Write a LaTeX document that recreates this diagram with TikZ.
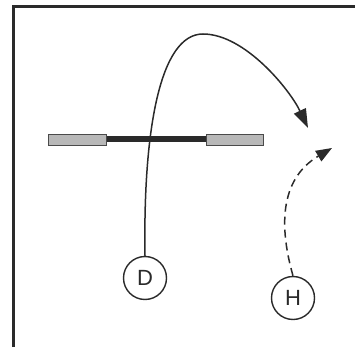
\documentclass[tikz,border=0pt]{standalone}
\usepackage{fontspec}
\setmainfont{Liberation Sans}
\usetikzlibrary{arrows.meta}
\definecolor{ink}{HTML}{2A2A2A}
\definecolor{padfill}{HTML}{B8B8B8}
\begin{document}
\begin{tikzpicture}[x=1pt,y=-1pt,
  player/.style={circle,draw=ink,line width=1.4pt,minimum size=43pt,inner sep=0pt,
    font=\fontsize{22}{22}\selectfont,text=ink},
  pad/.style={draw=ink!85,line width=0.7pt,fill=padfill},
  path/.style={draw=ink,line width=1.5pt},
  bighead/.style={-{Triangle[length=19pt,width=13pt]}},
  smallhead/.style={-{Triangle[length=16pt,width=12pt]}}]
  \useasboundingbox (0,0) rectangle (355,347);
  % frame of the area
  \draw[ink,line width=2.2pt] (13.5,347) -- (13.5,6.5) -- (355,6.5);
  % barrier with padded ends
  \fill[ink] (106,136.5) rectangle (206,142.5);
  \draw[pad] (48,134) rectangle (106,145);
  \draw[pad] (206,134) rectangle (263,145);
  % players
  \node[player] (D) at (145,278) {D};
  \node[player] (H) at (293,298) {H};
  \coordinate (top) at (203,34);
  \coordinate (dtip) at (308,128);
  \coordinate (htip) at (332,148);
  % runs
  \draw[path,bighead] (D.north) .. controls (143,130) and (160,34) .. (top)
    .. controls (245,34) and (290,90) .. (dtip);
  \draw[path,smallhead,dash pattern=on 8pt off 5pt] (H.north)
    .. controls (280,230) and (278,180) .. (htip);
\end{tikzpicture}
\end{document}
